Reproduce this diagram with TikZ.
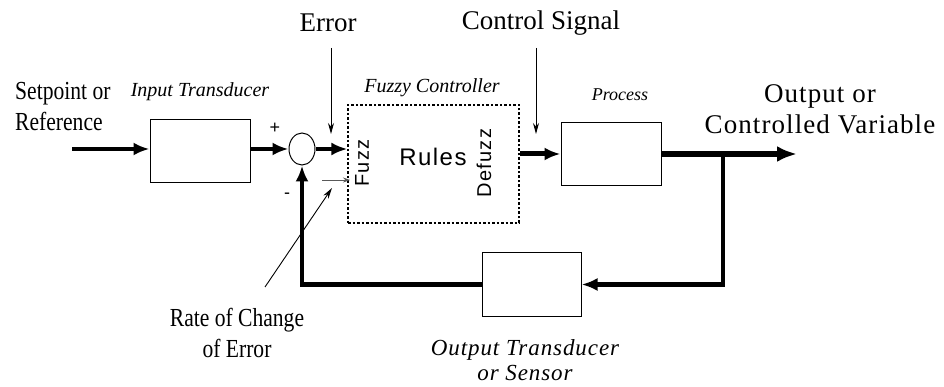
\documentclass[tikz,border=0pt]{standalone}
\usepackage{fontspec}
\setmainfont{Liberation Serif}
\setsansfont{Liberation Sans}
\newfontfamily\condserif[FakeStretch=0.83]{Liberation Serif}
\newfontfamily\lsserif[LetterSpace=4]{Liberation Serif}
\newfontfamily\lssans[LetterSpace=6]{Liberation Sans}
\usetikzlibrary{arrows.meta,shapes.geometric}
\tikzset{
  blockbox/.style={draw, line width=1pt, minimum width=100pt, minimum height=63pt, inner sep=0pt},
  sumnode/.style={ellipse, draw, line width=1pt, minimum width=26pt, minimum height=32pt, inner sep=0pt},
  fuzzybox/.style={draw, line width=1.2pt, dash pattern=on 2.5pt off 2pt, minimum width=171pt, minimum height=118pt, inner sep=0pt},
  sig/.style={line width=4pt, -{Latex[length=16pt,width=13pt]}},
  outsig/.style={line width=5.5pt, -{Latex[length=20pt,width=16pt]}},
  fbsig/.style={line width=4.5pt, -{Latex[length=16pt,width=13pt]}},
  thinarr/.style={line width=0.9pt, -{Stealth[length=11pt,width=6pt]}},
  smallarr/.style={line width=0.8pt, gray!70!black, -{Stealth[length=7pt,width=5pt]}},
  lbl/.style={inner sep=0pt},
  biglbl/.style={lbl, font=\fontsize{27}{31}\selectfont},
  condlbl/.style={lbl, font=\condserif\fontsize{26}{31}\selectfont},
  itallbl/.style={lbl, font=\itshape\fontsize{20}{24}\selectfont},
  sanslbl/.style={lbl, font=\lssans\fontsize{20}{22}\selectfont},
}
\begin{document}
\begin{tikzpicture}[x=1pt,y=-1pt]
\useasboundingbox (0,0) rectangle (944,387);

% blocks
\node[blockbox] (inbox) at (200,151.5) {};
\node[sumnode] (sum) at (302,149) {};
\node[fuzzybox] (fuzzy) at (433.5,164) {};
\node[blockbox] (proc) at (611,154) {};
\node[blockbox, minimum width=99pt, minimum height=64pt] (outbox) at (531.5,284.5) {};

% coordinates
\coordinate (start) at (72,149);
\coordinate (branch) at (723,154);
\coordinate (outend) at (797,154);
\coordinate (errtail) at (331,48);
\coordinate (errtip) at (331,134);
\coordinate (cstail) at (536,48);
\coordinate (cstip) at (536,134);
\coordinate (ratetail) at (265,287);
\coordinate (ratetip) at (332,188);
\coordinate (fuzztail) at (322,180);
\coordinate (fuzztip) at (350,180);

% signal paths
\draw[sig] (start) -- (start -| inbox.west);
\draw[sig] (inbox.east |- sum.west) -- (sum.west);
\draw[sig] (sum.east) -- (sum.east -| fuzzy.west);
\draw[sig, line width=5pt] (fuzzy.east |- proc.west) -- (proc.west);
\draw[outsig] (proc.east) -- (outend);
\draw[fbsig] (branch) |- (outbox.east);
\draw[fbsig] (outbox.west) -| (sum.south);

% labels
\node[condlbl, anchor=west, align=left] (setpt) at (15,107) {Setpoint or\\Reference};
\node[itallbl] (inlbl) at (200,92) {Input Transducer};
\node[itallbl] (fzlbl) at (432,88) {Fuzzy Controller};
\node[itallbl, font=\itshape\fontsize{18}{22}\selectfont] (prlbl) at (620,95) {Process};
\node[biglbl] (errlbl) at (328,23) {Error};
\node[biglbl] (cslbl) at (541,23) {Control Signal};
\node[lbl, font=\lsserif\fontsize{27}{31}\selectfont, align=center] (outlbl) at (820,109) {Output or\\Controlled Variable};
\node[condlbl, align=center] (ratelbl) at (237,333) {Rate of Change\\of Error};
\node[lbl, font=\lsserif\itshape\fontsize{23}{25}\selectfont, align=center] (otlbl) at (525,360) {Output Transducer\\or Sensor};

\node[sanslbl, rotate=90] (fuzz) at (362,163) {Fuzz};
\node[lbl, font=\lssans\fontsize{24}{28}\selectfont] (rules) at (433,157) {Rules};
\node[sanslbl, rotate=90] (defuzz) at (484,163) {Defuzz};

\node[lbl, font=\sffamily\fontsize{18}{20}\selectfont] (plus) at (275,128) {+};
\node[lbl, font=\sffamily\fontsize{18}{20}\selectfont] (minus) at (287,196) {-};

% annotation arrows
\draw[thinarr] (errtail) -- (errtip);
\draw[thinarr] (cstail) -- (cstip);
\draw[thinarr] (ratetail) -- (ratetip);
\draw[smallarr] (fuzztail) -- (fuzztip);
\end{tikzpicture}
\end{document}
